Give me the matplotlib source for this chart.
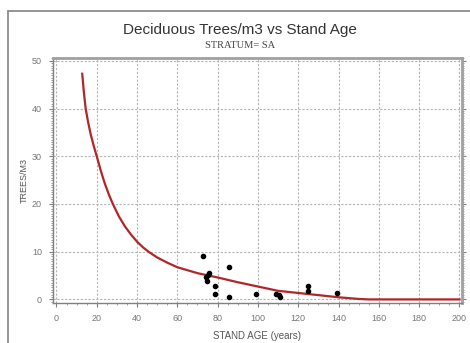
import numpy as np
import matplotlib.pyplot as plt
from matplotlib.patches import Rectangle
from matplotlib.ticker import MultipleLocator

plt.rcParams['font.family'] = ['Liberation Sans', 'DejaVu Sans']

# observed stand data
age = [72.8, 75.8, 75.3, 74.0, 74.8, 78.8, 78.8, 85.8, 85.8, 99.1,
       109.0, 110.5, 111.0, 125.0, 125.0, 139.0]
trees = [9.0, 5.6, 5.1, 4.8, 3.8, 2.8, 1.1, 6.7, 0.5, 1.1,
         1.2, 0.9, 0.5, 2.9, 1.8, 1.4]

# fitted curve
fit_age = [12.8, 13.6, 14.5, 15.7, 17.0, 18.5, 20.0, 22.0, 24.0, 26.0, 28.0,
           31.0, 34.0, 37.0, 40.0, 43.0, 46.0, 50.0, 55.0, 60.0, 70.0, 80.0,
           90.0, 100.0, 110.0, 120.0, 130.0, 140.0, 150.0, 155.0, 200.0]
fit_trees = [47.3, 43.5, 40.0, 37.2, 34.6, 32.2, 30.0, 27.0, 24.3, 22.0, 20.0,
             17.4, 15.3, 13.6, 12.1, 10.9, 9.9, 8.8, 7.7, 6.75, 5.5, 4.6,
             3.6, 2.7, 1.8, 1.35, 0.9, 0.45, 0.1, 0.0, 0.0]

fig = plt.figure(figsize=(4.7, 3.43), dpi=100)
ax = fig.add_axes([53 / 470, 1 - 303 / 343, 408.5 / 470, 245 / 343])

# outer border
fig.add_artist(Rectangle((8 / 470, -0.1), 1.0, 1 - 11 / 343 + 0.1,
                         transform=fig.transFigure, fill=False,
                         edgecolor='#8c8c8c', lw=1.3))

ax.plot(fit_age, fit_trees, color='#b0262a', lw=1.6, zorder=3)
ax.scatter(age, trees, s=9, color='black', zorder=4)

ax.set_xlim(-1.7, 201)
ax.set_ylim(-0.75, 50.6)
ax.xaxis.set_major_locator(MultipleLocator(20))
ax.xaxis.set_minor_locator(MultipleLocator(5))
ax.yaxis.set_major_locator(MultipleLocator(10))
ax.yaxis.set_minor_locator(MultipleLocator(0.5))

ax.grid(True, which='major', color='#b4b4b4', lw=0.8, linestyle=(0, (2, 1.5)))
ax.set_axisbelow(True)

for s in ['top', 'right']:
    ax.spines[s].set_color('#a0a0a0')
    ax.spines[s].set_linewidth(2)
for s in ['left', 'bottom']:
    ax.spines[s].set_color('#808080')
    ax.spines[s].set_linewidth(1)

ax.tick_params(which='major', length=3, width=0.8, color='#808080',
               labelsize=6.5, labelcolor='#777777', pad=5)
ax.tick_params(which='minor', length=1.5, width=0.6, color='#909090')
ax.tick_params(axis='y', which='both', right=True)

ax.set_xlabel('STAND AGE (years)', fontsize=7, color='#555555', labelpad=6)
ax.set_ylabel('TREES/M3', fontsize=6.5, color='#555555', labelpad=2)

fig.text(0.51, 1 - 30 / 343, 'Deciduous Trees/m3 vs Stand Age', ha='center',
         va='center', fontsize=11, color='#333333')
fig.text(0.51, 1 - 46 / 343, 'STRATUM= SA', ha='center', va='center',
         fontsize=7.5, color='#444444', family='Liberation Serif')

fig.savefig('out.png', dpi=100)
